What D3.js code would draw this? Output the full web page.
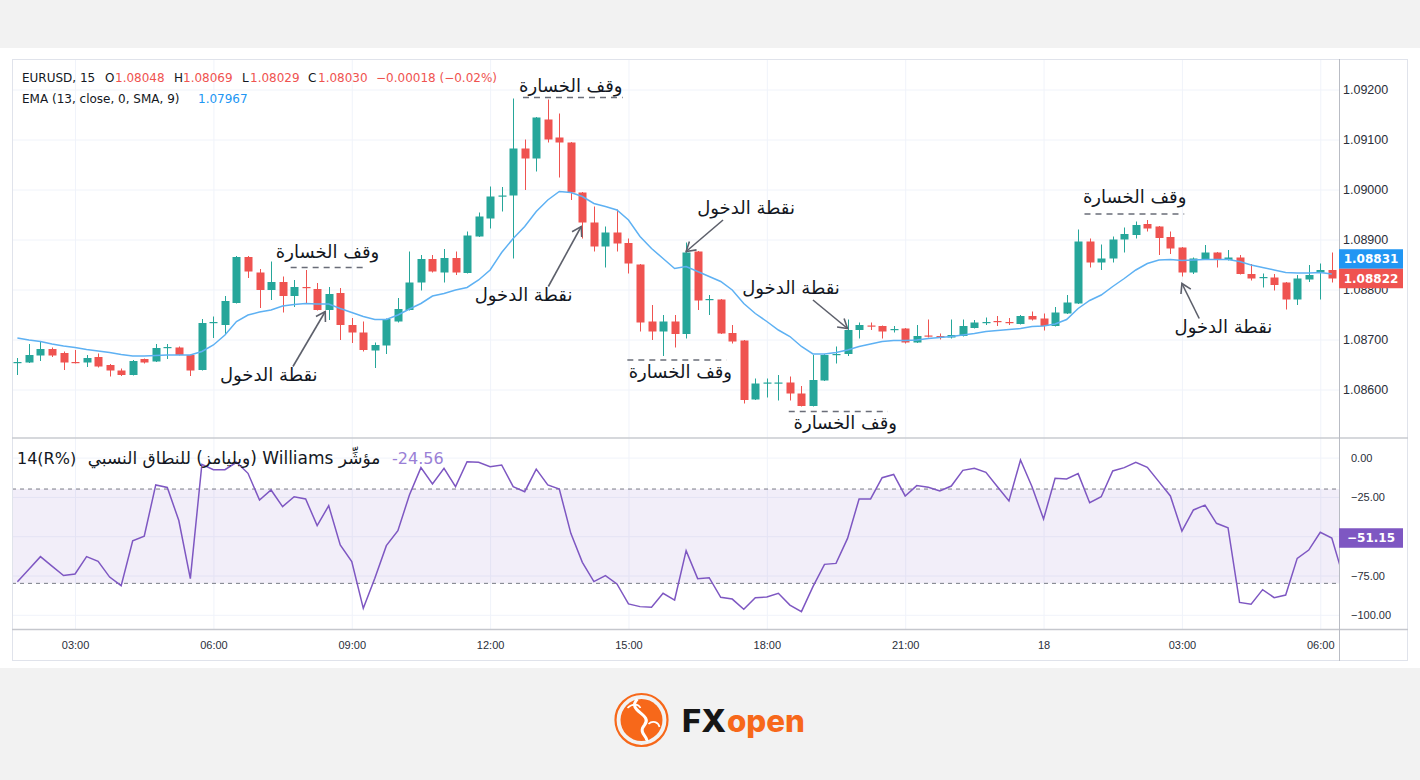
<!DOCTYPE html>
<html>
<head>
<meta charset="utf-8">
<title>EURUSD 15 - EMA and Williams %R</title>
<style>
  body { margin: 0; background: #f2f2f2; }
  svg { display: block; font-family: "DejaVu Sans", sans-serif; }
  .axis path, .axis line { display: none; }
  .axis text { fill: #2a2e39; }
  .grid line { stroke: #f0f3fa; stroke-width: 1; }
  .grid path, .grid text { display: none; }
  .note { font-size: 18px; fill: #131722; }
</style>
</head>
<body>

<script src="https://d3js.org/d3.v7.min.js"></script>
<script>

// ---- data ----
var open = [1.08653,1.08654,1.08668,1.08681,1.08673,1.08655,1.08654,1.08665,1.08649,1.08638,
  1.08629,1.08661,1.08656,1.08683,1.08684,1.08669,1.08639,1.08733,1.08729,1.08773,
  1.08865,1.08834,1.08799,1.08815,1.08787,1.08805,1.08801,1.08759,1.08793,1.08729,
  1.08714,1.08678,1.08688,1.08736,1.08759,1.08814,1.08861,1.08834,1.08863,1.08833,
  1.08906,1.08942,1.08986,1.08988,1.09082,1.09062,1.09140,1.09104,1.09094,1.08994,
  1.08934,1.08886,1.08914,1.08893,1.08850,1.08736,1.08716,1.08736,1.08711,1.08876,
  1.08779,1.08780,1.08713,1.08698,1.08580,1.08612,1.08612,1.08614,1.08592,1.08567,
  1.08618,1.08669,1.08671,1.08719,1.08728,1.08727,1.08719,1.08722,1.08694,1.08708,
  1.08707,1.08704,1.08707,1.08723,1.08733,1.08737,1.08735,1.08731,1.08747,1.08742,
  1.08727,1.08752,1.08772,1.08896,1.08854,1.08862,1.08900,1.08909,1.08931,1.08926,
  1.08905,1.08884,1.08834,1.08860,1.08874,1.08859,1.08864,1.08831,1.08823,1.08824,
  1.08814,1.08780,1.08820,1.08834,1.08839];

var high = [1.08663,1.08691,1.08697,1.08684,1.08676,1.08679,1.08669,1.08672,1.08651,1.08642,
  1.08659,1.08662,1.08691,1.08691,1.08686,1.08670,1.08741,1.08746,1.08787,1.08867,
  1.08867,1.08841,1.08856,1.08826,1.08819,1.08839,1.08813,1.08805,1.08803,1.08743,
  1.08736,1.08694,1.08742,1.08783,1.08876,1.08869,1.08869,1.08881,1.08876,1.08916,
  1.08954,1.09006,1.09005,1.09182,1.09100,1.09145,1.09180,1.09152,1.09095,1.08995,
  1.08966,1.08926,1.08960,1.08902,1.08851,1.08769,1.08749,1.08749,1.08894,1.08877,
  1.08789,1.08781,1.08729,1.08699,1.08622,1.08622,1.08629,1.08626,1.08607,1.08669,
  1.08671,1.08686,1.08740,1.08734,1.08734,1.08728,1.08727,1.08723,1.08729,1.08740,
  1.08712,1.08740,1.08740,1.08739,1.08744,1.08747,1.08743,1.08749,1.08756,1.08752,
  1.08765,1.08789,1.08920,1.08902,1.08890,1.08906,1.08924,1.08936,1.08939,1.08927,
  1.08916,1.08885,1.08864,1.08889,1.08875,1.08879,1.08869,1.08851,1.08832,1.08831,
  1.08815,1.08829,1.08849,1.08852,1.08874];

var low = [1.08629,1.08653,1.08657,1.08665,1.08639,1.08652,1.08645,1.08644,1.08626,1.08627,
  1.08628,1.08652,1.08655,1.08661,1.08668,1.08627,1.08638,1.08703,1.08709,1.08772,
  1.08823,1.08763,1.08779,1.08754,1.08765,1.08773,1.08758,1.08739,1.08699,1.08693,
  1.08676,1.08643,1.08671,1.08734,1.08758,1.08798,1.08834,1.08814,1.08829,1.08832,
  1.08905,1.08922,1.08956,1.08862,1.08999,1.09036,1.09094,1.09024,1.08979,1.08902,
  1.08876,1.08844,1.08876,1.08832,1.08716,1.08699,1.08667,1.08684,1.08702,1.08759,
  1.08749,1.08711,1.08692,1.08572,1.08579,1.08584,1.08578,1.08578,1.08566,1.08566,
  1.08617,1.08652,1.08667,1.08702,1.08719,1.08702,1.08714,1.08692,1.08693,1.08704,
  1.08700,1.08702,1.08706,1.08722,1.08729,1.08727,1.08729,1.08730,1.08738,1.08718,
  1.08726,1.08751,1.08771,1.08844,1.08839,1.08854,1.08874,1.08902,1.08916,1.08869,
  1.08871,1.08826,1.08831,1.08859,1.08844,1.08858,1.08830,1.08818,1.08804,1.08798,
  1.08760,1.08769,1.08815,1.08780,1.08814];

var close = [1.08655,1.08669,1.08681,1.08668,1.08654,1.08653,1.08663,1.08646,1.08638,1.08629,
  1.08657,1.08654,1.08683,1.08685,1.08669,1.08638,1.08733,1.08735,1.08777,1.08865,
  1.08836,1.08799,1.08815,1.08787,1.08805,1.08803,1.08759,1.08791,1.08729,1.08714,
  1.08679,1.08689,1.08741,1.08761,1.08814,1.08861,1.08836,1.08863,1.08834,1.08908,
  1.08946,1.08986,1.08988,1.09082,1.09062,1.09144,1.09100,1.09094,1.08994,1.08934,
  1.08886,1.08914,1.08892,1.08852,1.08734,1.08716,1.08736,1.08711,1.08874,1.08778,
  1.08781,1.08712,1.08696,1.08579,1.08612,1.08614,1.08614,1.08592,1.08567,1.08619,
  1.08669,1.08671,1.08719,1.08729,1.08726,1.08716,1.08721,1.08694,1.08707,1.08706,
  1.08705,1.08709,1.08727,1.08734,1.08735,1.08735,1.08733,1.08747,1.08740,1.08727,
  1.08754,1.08774,1.08896,1.08854,1.08862,1.08900,1.08911,1.08929,1.08922,1.08903,
  1.08882,1.08834,1.08862,1.08874,1.08860,1.08864,1.08831,1.08822,1.08825,1.08809,
  1.08780,1.08822,1.08829,1.08839,1.08822];

var ema = [1.08703,1.08699,1.08696,1.08691,1.08687,1.08684,1.08680,1.08677,1.08674,1.08670,
  1.08667,1.08667,1.08668,1.08669,1.08669,1.08669,1.08676,1.08689,1.08709,1.08736,
  1.08749,1.08755,1.08759,1.08767,1.08770,1.08772,1.08771,1.08771,1.08762,1.08754,
  1.08746,1.08740,1.08740,1.08749,1.08761,1.08772,1.08787,1.08792,1.08799,1.08804,
  1.08819,1.08839,1.08874,1.08902,1.08926,1.08956,1.08979,1.08996,1.08994,1.08986,
  1.08972,1.08966,1.08959,1.08939,1.08906,1.08882,1.08862,1.08842,1.08846,1.08836,
  1.08826,1.08816,1.08799,1.08772,1.08752,1.08736,1.08719,1.08706,1.08686,1.08671,
  1.08671,1.08674,1.08679,1.08686,1.08691,1.08696,1.08698,1.08698,1.08699,1.08702,
  1.08704,1.08706,1.08709,1.08712,1.08716,1.08718,1.08720,1.08722,1.08726,1.08727,
  1.08731,1.08740,1.08762,1.08778,1.08789,1.08806,1.08822,1.08839,1.08852,1.08859,
  1.08860,1.08858,1.08859,1.08860,1.08860,1.08860,1.08856,1.08849,1.08844,1.08839,
  1.08834,1.08833,1.08833,1.08834,1.08831];

// Williams %R, one value per bar (the last one sits just past the price scale)
var willr = [-79,-71,-63,-69,-75,-74,-63,-66,-76,-81.5,
  -53,-50,-17.4,-19,-40,-77,-4.3,-7.7,-7.7,-3,
  -10,-27,-20.6,-31.2,-24.9,-26.3,-43.3,-30.6,-55.6,-66.2,
  -95.9,-76.8,-56,-46.5,-23.8,-6.4,-16.8,-6.8,-18.5,-2.6,
  -3,-5.8,-4.7,-18.5,-21.7,-7.3,-17.4,-20,-48.2,-66.6,
  -78.9,-75.1,-80.4,-93.1,-94.8,-95.2,-86.3,-90.6,-59.2,-77,
  -76.4,-88.9,-90,-96.5,-89.1,-88.7,-86.3,-93.8,-98,-82.1,
  -67.9,-67.3,-51.4,-26.3,-26.3,-12.8,-10.7,-24.4,-17.8,-18.9,
  -21.2,-18.1,-8.1,-6.8,-9.4,-18.5,-27.6,-1.5,-18.5,-39.1,
  -13.2,-13.6,-10.2,-28.7,-24.9,-8.5,-6.4,-3,-6.2,-15.3,
  -24.4,-46.7,-33.3,-30.2,-41.8,-44.6,-92.1,-93.3,-84,-89.1,
  -87.4,-64.1,-58.8,-47.5,-51.15,-76];

var timeIdx = [5, 17, 29, 41, 53, 65, 77, 89, 101, 113];
var timeLabels = ["03:00", "06:00", "09:00", "12:00", "15:00", "18:00", "21:00", "18", "03:00", "06:00"];
var priceTicks = [1.086, 1.087, 1.088, 1.089, 1.090, 1.091, 1.092];
var wTicks = [0, -25, -75, -100];
var wGridTicks = [0, -25, -50, -75, -100];
var wBand = [-20, -80];

var lastEma = 1.08831, lastClose = 1.08822, lastW = -51.15;

// stop-loss labels: text centre (bar, price), dashed line (bar from, bar to, price)
var stopNotes = [
  {i: 26.9, p: 1.08876, a: 23.7, b: 30.0, lp: 1.08844},
  {i: 48.0, p: 1.09207, a: 43.85, b: 52.5, lp: 1.09184},
  {i: 57.5, p: 1.08636, a: 52.9, b: 61.5, lp: 1.08659},
  {i: 71.8, p: 1.08533, a: 66.9, b: 75.5, lp: 1.08556},
  {i: 96.9, p: 1.08986, a: 92.55, b: 101.2, lp: 1.08951}
];
// entry labels: text centre, arrow from -> to
var entryNotes = [
  {i: 21.8, p: 1.08629, fi: 23.9, fp: 1.08646, ti: 26.7, tp: 1.08756},
  {i: 43.9, p: 1.08789, fi: 46.05, fp: 1.08806, ti: 48.9, tp: 1.08926},
  {i: 63.2, p: 1.08963, fi: 61.2, fp: 1.08939, ti: 58.0, tp: 1.08876},
  {i: 67.1, p: 1.08804, fi: 69.0, fp: 1.08779, ti: 72.0, tp: 1.08722},
  {i: 104.6, p: 1.08726, fi: 102.5, fp: 1.08742, ti: 101.0, tp: 1.08812}
];

// ---- layout ----
var W = 1420, H = 780;
var fl = 12, fr = 1408, ft = 59, fb = 661;
var axisX = 1339, split = 438, timeY = 629;

var up = "#26a69a", down = "#ef5350";

var x = d3.scaleLinear().domain([0, 114]).range([17.4, 1331.8]);
var y = d3.scaleLinear().domain([1.086, 1.092]).range([389.5, 89.5]);
var yw = d3.scaleLinear().domain([-100, 0]).range([614.8, 457.6]);

var svg = d3.select("body").append("svg")
    .attr("width", W)
    .attr("height", H);

svg.append("rect").attr("width", W).attr("height", H).attr("fill", "#f2f2f2");
svg.append("rect").attr("x", 0).attr("y", 48).attr("width", W).attr("height", 620).attr("fill", "#fff");

var defs = svg.append("defs");
defs.append("clipPath").attr("id", "clipP").append("rect")
    .attr("x", fl).attr("y", ft).attr("width", axisX - fl).attr("height", split - ft);
defs.append("clipPath").attr("id", "clipW").append("rect")
    .attr("x", fl).attr("y", split).attr("width", axisX - fl).attr("height", timeY - split);
defs.append("marker")
    .attr("id", "arrow")
    .attr("markerUnits", "userSpaceOnUse")
    .attr("markerWidth", 14).attr("markerHeight", 14)
    .attr("viewBox", "-12 -7 14 14")
    .attr("refX", 0).attr("refY", 0)
    .attr("orient", "auto")
  .append("path")
    .attr("d", "M-9,-5.5L0,0L-9,5.5")
    .attr("fill", "none")
    .attr("stroke", "#5d606b")
    .attr("stroke-width", 1.6);

// grids
svg.append("g")
    .attr("class", "grid")
    .attr("transform", "translate(0," + timeY + ")")
    .call(d3.axisBottom(x).tickValues(timeIdx).tickSize(-(timeY - ft)));

svg.append("g")
    .attr("class", "grid")
    .attr("transform", "translate(" + fl + ",0)")
    .call(d3.axisRight(y).tickValues(priceTicks).tickSize(axisX - fl));

svg.append("g")
    .attr("class", "grid")
    .attr("transform", "translate(" + fl + ",0)")
    .call(d3.axisRight(yw).tickValues(wGridTicks).tickSize(axisX - fl));

// ---- price pane ----
var pane = svg.append("g").attr("clip-path", "url(#clipP)");

var idx = d3.range(open.length);
var col = function (i) { return close[i] >= open[i] ? up : down; };
var cx = function (i) { return Math.round(x(i)) + 0.5; };

pane.append("g").selectAll("line")
    .data(idx)
    .join("line")
    .attr("x1", cx).attr("x2", cx)
    .attr("y1", function (i) { return y(high[i]); })
    .attr("y2", function (i) { return y(low[i]); })
    .attr("stroke", col)
    .attr("stroke-width", 1);

pane.append("g").selectAll("rect")
    .data(idx)
    .join("rect")
    .attr("x", function (i) { return cx(i) - 4; })
    .attr("width", 8)
    .attr("y", function (i) { return y(Math.max(open[i], close[i])); })
    .attr("height", function (i) { return Math.max(1.2, Math.abs(y(open[i]) - y(close[i]))); })
    .attr("fill", col);

var emaLine = d3.line()
    .x(function (d, i) { return x(i); })
    .y(function (d) { return y(d); });

pane.append("path")
    .datum(ema)
    .attr("d", emaLine)
    .attr("fill", "none")
    .attr("stroke", "#5eb1f3")
    .attr("stroke-width", 1.5);

// annotations
var notes = svg.append("g");

notes.selectAll(".stopline")
    .data(stopNotes)
    .join("line")
    .attr("x1", function (d) { return x(d.a); })
    .attr("x2", function (d) { return x(d.b); })
    .attr("y1", function (d) { return y(d.lp); })
    .attr("y2", function (d) { return y(d.lp); })
    .attr("stroke", "#6a6d78")
    .attr("stroke-width", 1.3)
    .attr("stroke-dasharray", "6,5");

notes.selectAll(".stoptext")
    .data(stopNotes)
    .join("text")
    .attr("class", "note")
    .attr("x", function (d) { return x(d.i); })
    .attr("y", function (d) { return y(d.p); })
    .attr("dy", "0.35em")
    .attr("text-anchor", "middle")
    .text("وقف الخسارة");

notes.selectAll(".arrow")
    .data(entryNotes)
    .join("line")
    .attr("x1", function (d) { return x(d.fi); })
    .attr("y1", function (d) { return y(d.fp); })
    .attr("x2", function (d) { return x(d.ti); })
    .attr("y2", function (d) { return y(d.tp); })
    .attr("stroke", "#5d606b")
    .attr("stroke-width", 1.6)
    .attr("marker-end", "url(#arrow)");

notes.selectAll(".entrytext")
    .data(entryNotes)
    .join("text")
    .attr("class", "note")
    .attr("x", function (d) { return x(d.i); })
    .attr("y", function (d) { return y(d.p); })
    .attr("dy", "0.35em")
    .attr("text-anchor", "middle")
    .text("نقطة الدخول");

// ---- Williams %R pane ----
var wp = svg.append("g").attr("clip-path", "url(#clipW)");

wp.append("rect")
    .attr("x", fl).attr("width", axisX - fl)
    .attr("y", yw(wBand[0]))
    .attr("height", yw(wBand[1]) - yw(wBand[0]))
    .attr("fill", "rgba(126,87,194,0.1)");

wp.selectAll(".band")
    .data(wBand)
    .join("line")
    .attr("x1", fl).attr("x2", axisX)
    .attr("y1", function (d) { return yw(d); })
    .attr("y2", function (d) { return yw(d); })
    .attr("stroke", "#787b86")
    .attr("stroke-dasharray", "4,4");

wp.append("path")
    .datum(willr)
    .attr("d", d3.line().x(function (d, i) { return x(i); }).y(function (d) { return yw(d); }))
    .attr("fill", "none")
    .attr("stroke", "#7e57c2")
    .attr("stroke-width", 1.5);

// ---- frame, separators ----
svg.append("rect")
    .attr("x", fl + 0.5).attr("y", ft + 0.5)
    .attr("width", fr - fl - 1).attr("height", fb - ft - 1)
    .attr("fill", "none").attr("stroke", "#e0e3eb");
svg.append("line")
    .attr("x1", fl).attr("x2", fr).attr("y1", split).attr("y2", split)
    .attr("stroke", "#c9cbd1").attr("stroke-width", 1.6);
svg.append("line")
    .attr("x1", fl).attr("x2", fr).attr("y1", timeY + 0.5).attr("y2", timeY + 0.5)
    .attr("stroke", "#c5c7cd").attr("stroke-width", 1.4);
svg.append("line")
    .attr("x1", axisX + 0.5).attr("x2", axisX + 0.5).attr("y1", ft).attr("y2", fb)
    .attr("stroke", "#b9bcc4");

// ---- axes ----
svg.append("g")
    .attr("class", "axis")
    .attr("transform", "translate(" + axisX + ",0)")
    .style("font-size", "12.5px")
    .call(d3.axisRight(y).tickValues(priceTicks).tickSize(0).tickPadding(4)
      .tickFormat(d3.format(".5f")))
    .call(function (g) { g.select(".domain").remove(); });

svg.append("g")
    .attr("class", "axis")
    .attr("transform", "translate(" + axisX + ",0)")
    .style("font-size", "11px")
    .call(d3.axisRight(yw).tickValues(wTicks).tickSize(0).tickPadding(12)
      .tickFormat(function (d) { return d === 0 ? "0.00" : "\u2212" + Math.abs(d).toFixed(2); }))
    .call(function (g) { g.select(".domain").remove(); });

svg.append("g")
    .attr("class", "axis")
    .attr("transform", "translate(0," + timeY + ")")
    .style("font-size", "11px")
    .call(d3.axisBottom(x).tickValues(timeIdx).tickSize(0).tickPadding(12)
      .tickFormat(function (d, k) { return timeLabels[k]; }))
    .call(function (g) { g.select(".domain").remove(); });

// last value boxes
var closeY = y(lastClose);
var emaY = Math.min(y(lastEma), closeY - 19.5);
var boxes = [
  {v: lastEma, cy: emaY, c: "#2196f3", t: d3.format(".5f")(lastEma)},
  {v: lastClose, cy: closeY, c: "#ef5350", t: d3.format(".5f")(lastClose)},
  {v: lastW, cy: yw(lastW), c: "#7e57c2", t: "\u2212" + Math.abs(lastW).toFixed(2)}
];
var bx = svg.append("g").selectAll("g").data(boxes).join("g");
bx.append("rect")
    .attr("x", axisX)
    .attr("y", function (d) { return d.cy - 9.75; })
    .attr("width", 64).attr("height", 19.5)
    .attr("fill", function (d) { return d.c; });
bx.append("text")
    .attr("x", axisX + 32)
    .attr("y", function (d) { return d.cy; })
    .attr("dy", "0.36em")
    .attr("text-anchor", "middle")
    .attr("fill", "#fff")
    .attr("font-size", "12px")
    .attr("font-weight", "bold")
    .text(function (d) { return d.t; });

// ---- legends ----
var leg = svg.append("text").attr("y", 82).attr("font-size", "12px").attr("fill", "#131722");
[["EURUSD, 15", 22, "#131722"], ["O", 105, "#131722"], ["1.08048", 115, down],
 ["H", 174, "#131722"], ["1.08069", 183, down], ["L", 242, "#131722"], ["1.08029", 250, down],
 ["C", 308, "#131722"], ["1.08030", 318, down], ["\u22120.00018 (\u22120.02%)", 376, down]]
  .forEach(function (s) {
    leg.append("tspan").attr("x", s[1]).attr("fill", s[2]).text(s[0]);
  });

var leg2 = svg.append("text").attr("y", 103).attr("font-size", "12px");
leg2.append("tspan").attr("x", 22).attr("fill", "#131722").text("EMA (13, close, 0, SMA, 9)");
leg2.append("tspan").attr("x", 198).attr("fill", "#2196f3").text("1.07967");

svg.append("text")
    .attr("x", 17).attr("y", 464)
    .attr("font-size", "16px").attr("fill", "#131722")
    .text("14(R%)");
svg.append("text")
    .attr("x", 234).attr("y", 464)
    .attr("direction", "rtl")
    .attr("text-anchor", "middle")
    .attr("font-size", "17px").attr("fill", "#131722")
    .text("مؤشِّر Williams (ويليامز) للنطاق النسبي");
svg.append("text")
    .attr("x", 392).attr("y", 464)
    .attr("font-size", "16px").attr("fill", "#9a7fd6")
    .text("-24.56");

// ---- FXOpen logo ----
var logo = svg.append("g").attr("transform", "translate(641.5,720)");
logo.append("circle").attr("r", 26).attr("fill", "none").attr("stroke", "#f7681a").attr("stroke-width", 2.2);
logo.append("circle").attr("r", 21).attr("fill", "#f7681a");
logo.append("path")
    .attr("d", "M-4,-21C-16,-9 12,-6 3,5C-4,13 7,17 5,21")
    .attr("fill", "none").attr("stroke", "#fff").attr("stroke-width", 3);
logo.append("path")
    .attr("d", "M-14,-12C-9,-17 -3,-16 -1,-12M7,4C11,0 17,2 18,7")
    .attr("fill", "none").attr("stroke", "#fff").attr("stroke-width", 1.6);

var brand = svg.append("text").attr("y", 732).attr("font-family", "Inter, sans-serif")
    .attr("font-weight", 800).attr("font-size", "31px");
brand.append("tspan").attr("x", 682).attr("fill", "#161616")
    .attr("textLength", 44).attr("lengthAdjust", "spacingAndGlyphs").text("FX");
brand.append("tspan").attr("x", 727).attr("fill", "#f7681a")
    .attr("textLength", 78).attr("lengthAdjust", "spacingAndGlyphs").text("open");

</script>
</body>
</html>
